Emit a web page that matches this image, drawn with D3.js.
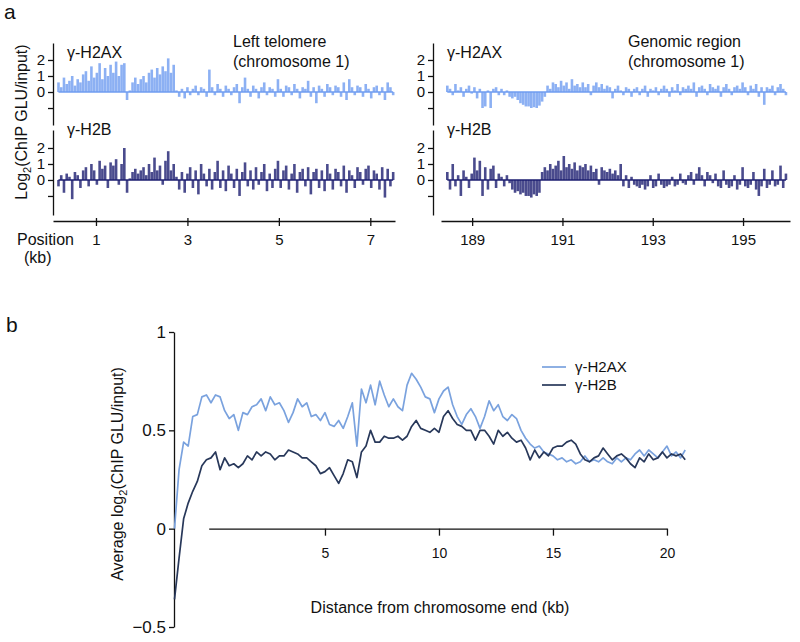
<!DOCTYPE html>
<html><head><meta charset="utf-8">
<script src="https://cdn.jsdelivr.net/npm/d3@7"></script>
<style>body{margin:0;background:#fff} svg{display:block} text{font-family:"Liberation Sans",Arial,sans-serif;fill:#111}</style>
</head><body><svg id="c" width="800" height="642"></svg>
<script>
// ---- Panel a data (log2 ChIP/input, sampled along position) ----
const leftStart = 0.18, rightStart = 188.45, trackStep = 0.06; // kb
const leftH2AX = [0.6,0.3,0.9,0.5,0.7,1.0,0.4,0.8,0.6,1.1,
  1.3,0.7,1.6,0.9,1.2,1.8,0.8,1.5,1.0,1.7,
  1.2,1.9,1.0,1.7,1.8,-0.5,0.1,0.6,0.9,0.5,
  0.8,1.0,0.6,1.2,1.4,0.9,1.5,1.1,1.6,1.3,
  2.1,1.2,1.7,0.1,-0.3,0.2,-0.4,0.3,-0.2,0.2,
  0.4,-0.2,0.3,0.2,-0.3,1.4,0.3,-0.2,0.5,0.2,
  -0.3,0.4,0.2,-0.2,0.3,0.5,-0.7,0.3,0.9,0.2,
  -0.3,0.4,0.2,-0.4,0.3,0.6,-0.2,0.3,0.2,-0.3,
  0.8,0.2,-0.3,0.4,0.3,-0.2,0.5,0.2,-0.4,0.3,
  0.2,0.7,-0.3,0.3,-0.7,0.4,0.2,-0.3,0.5,0.3,
  -0.2,0.4,0.3,-0.3,0.6,-0.5,0.8,0.3,-0.2,0.4,
  0.3,-0.3,0.5,0.2,-0.4,0.3,0.4,-0.2,0.3,-0.5,
  0.6,0.3,-0.2];
const leftH2B = [-0.4,0.3,-0.8,0.4,0.2,-1.2,0.5,0.3,-0.5,0.6,
  0.8,-0.4,1.0,0.6,-0.3,1.2,0.7,0.9,-0.5,1.1,
  0.9,1.3,-0.3,1.0,2.0,-0.8,0.1,0.5,0.7,0.4,
  0.6,0.8,0.3,1.0,0.5,1.4,0.6,0.9,-0.3,1.2,
  1.8,0.6,1.0,0.2,-0.6,0.5,-0.8,0.4,0.8,-0.5,
  0.6,-0.9,1.0,0.4,-0.4,0.7,-0.6,0.5,1.2,-0.5,
  0.6,-0.7,0.9,0.4,-0.5,0.7,-1.0,0.5,1.1,-0.4,
  0.6,-0.6,0.8,-0.3,0.5,1.0,-0.7,0.4,-0.5,0.7,
  1.2,-0.5,0.6,0.9,-0.6,0.4,1.0,-0.8,0.5,0.7,
  -0.4,0.8,-0.9,0.5,0.7,-0.5,0.6,-0.7,1.0,0.4,
  -0.6,0.7,0.5,-0.4,0.9,-0.8,0.6,0.3,-0.5,0.8,
  0.5,-0.3,0.7,0.9,-0.5,0.6,0.4,-0.6,0.8,-1.1,
  0.7,-0.4,0.5];
const rightH2AX = [0.4,0.2,-0.2,0.5,0.1,0.3,-0.3,0.2,0.4,-0.1,
  0.3,-0.4,0.2,-1.0,-0.9,0.1,-1.0,0.2,0.3,-0.2,
  0.2,-0.2,0.1,-0.3,-0.4,-0.3,-0.5,-0.7,-0.8,-0.9,
  -0.9,-1.0,-0.95,-1.0,-0.85,-0.6,-0.3,0.4,0.2,0.6,
  0.5,0.3,0.7,0.4,0.6,0.2,0.8,0.4,0.5,0.3,
  0.6,0.3,0.5,-0.2,0.4,0.6,0.3,0.5,0.2,0.4,
  0.3,-0.4,0.2,0.4,0.1,-0.2,0.3,0.2,-0.3,0.2,
  0.3,-0.2,0.2,0.4,-0.3,0.2,0.1,0.3,-0.2,0.2,
  0.4,0.2,-0.3,0.3,0.1,0.5,-0.2,0.3,0.2,0.4,
  0.2,0.6,-0.3,0.3,0.4,0.2,-0.2,0.5,0.3,0.2,
  0.4,-0.3,0.3,0.5,0.2,-0.2,0.3,0.4,0.2,0.6,
  0.3,-0.2,0.4,0.2,0.5,-0.3,0.3,-0.8,0.3,0.2,
  0.4,-0.2,0.3,0.5,0.2,-0.2];
const rightH2B = [0.5,-0.6,1.0,-0.4,0.3,-1.0,0.6,0.2,-0.5,0.4,
  1.4,0.6,1.2,-1.0,0.8,-0.6,0.7,0.9,-0.5,0.4,
  0.2,-0.4,0.3,-0.2,-0.6,-0.8,-0.7,-0.9,-0.8,-1.0,
  -1.0,-1.1,-0.9,-1.0,-0.8,0.5,0.8,0.6,1.0,0.7,
  0.9,1.2,0.6,1.5,0.8,1.0,0.7,1.1,0.6,0.9,
  0.8,1.0,0.6,0.9,0.5,0.7,-0.3,0.8,0.6,0.5,
  0.7,0.4,0.6,0.3,1.0,-0.4,0.3,-0.5,0.2,-0.3,
  -0.4,-0.5,-0.3,-0.6,-0.4,0.3,-0.5,-0.4,0.4,-0.3,
  -0.5,-0.4,-0.3,0.2,-0.4,-0.3,0.4,-0.2,-0.3,0.3,
  0.5,-0.3,0.4,0.8,0.3,-0.4,0.5,0.3,-0.2,0.4,
  -0.4,-0.5,0.6,-0.3,-0.5,-0.4,0.3,-0.6,-0.3,0.8,
  -0.4,-0.5,-0.3,0.5,-0.6,-1.0,-0.4,0.7,-0.5,-0.3,
  0.6,-0.4,-0.3,0.9,-0.5,0.4];
const leftTicks = [1, 3, 5, 7];
const rightTicks = [189, 191, 193, 195];
const trackYTicks = [2, 1, 0, -1];

// ---- Panel b data (average log2 ChIP/input vs distance from chromosome end) ----
const distStart = -1.6, distStep = 0.2; // kb
const avgH2AX = [0.00,0.30,0.44,0.42,0.57,0.58,0.67,0.68,
  0.64,0.68,0.67,0.60,0.56,0.58,0.50,0.59,0.58,0.62,
  0.63,0.66,0.60,0.67,0.63,0.64,0.60,0.54,0.59,0.66,
  0.62,0.64,0.57,0.58,0.55,0.59,0.53,0.52,0.55,0.51,
  0.57,0.64,0.42,0.71,0.64,0.73,0.63,0.75,0.68,0.62,
  0.66,0.62,0.60,0.73,0.79,0.76,0.72,0.67,0.66,0.59,
  0.66,0.70,0.72,0.63,0.57,0.53,0.58,0.61,0.57,0.51,
  0.57,0.65,0.60,0.63,0.57,0.55,0.58,0.56,0.50,0.46,
  0.43,0.41,0.42,0.39,0.38,0.37,0.35,0.36,0.34,0.35,
  0.33,0.34,0.37,0.34,0.35,0.34,0.36,0.34,0.33,0.36,
  0.34,0.36,0.35,0.38,0.40,0.37,0.40,0.38,0.36,0.39,
  0.42,0.37,0.39,0.36,0.40];
const avgH2B = [-0.36,-0.15,0.05,0.13,0.19,0.24,0.32,0.35,
  0.36,0.39,0.30,0.36,0.32,0.33,0.31,0.33,0.37,0.35,
  0.39,0.37,0.39,0.38,0.35,0.37,0.37,0.40,0.39,0.38,
  0.36,0.36,0.34,0.32,0.28,0.29,0.31,0.27,0.23,0.28,
  0.35,0.34,0.26,0.39,0.42,0.50,0.44,0.44,0.47,0.46,
  0.46,0.47,0.45,0.47,0.52,0.55,0.51,0.50,0.49,0.51,
  0.49,0.57,0.60,0.56,0.53,0.52,0.50,0.50,0.45,0.50,
  0.50,0.47,0.43,0.50,0.47,0.49,0.46,0.44,0.45,0.41,
  0.35,0.40,0.36,0.39,0.37,0.41,0.42,0.42,0.44,0.45,
  0.43,0.38,0.35,0.34,0.36,0.37,0.41,0.38,0.35,0.37,
  0.38,0.36,0.33,0.31,0.36,0.34,0.38,0.35,0.36,0.39,
  0.36,0.38,0.37,0.38,0.35];
const avgXTicks = [5, 10, 15, 20];
const avgYTicks = [1, 0.5, 0, -0.5];

// ---- drawing ----
const svg = d3.select('#c');
const FONT = '"Liberation Sans", Arial, sans-serif';
const FONT_B = 'Lato, "Liberation Sans", sans-serif';
const colA = '#6f9cf0', colB = '#1d1e70';
const colA2 = '#7aa2de', colB2 = '#28385a';

function styleAxis(g, size, fam) {
  g.attr('font-size', size).attr('font-family', fam);
  g.selectAll('path,line').attr('stroke', '#111').attr('stroke-width', 1.3);
  g.selectAll('text').attr('fill', '#111');
}

const yTop = d3.scaleLinear().domain([-2.06, 3.06]).range([125, 43]);
const yBot = d3.scaleLinear().domain([-2.19, 3.125]).range([215, 130]);
const xL = d3.scaleLinear().domain([0.06, 7.54]).range([53, 395]);
const xR = d3.scaleLinear().domain([188.31, 196.04]).range([441, 790]);

function drawTrack(data, start, xs, ys, color) {
  const pts = data.map((v, i) => ({pos: start + i * trackStep, v}));
  const g = svg.append('g');
  g.selectAll('line.s').data(pts).join('line').attr('class', 's')
    .attr('x1', d => xs(d.pos)).attr('x2', d => xs(d.pos))
    .attr('y1', ys(0)).attr('y2', d => ys(d.v))
    .attr('stroke', color).attr('stroke-width', 2.6).attr('stroke-opacity', 0.8);
  g.append('line')
    .attr('x1', xs(pts[0].pos)).attr('x2', xs(pts[pts.length - 1].pos))
    .attr('y1', ys(0)).attr('y2', ys(0))
    .attr('stroke', color).attr('stroke-width', 1.4);
}
drawTrack(leftH2AX, leftStart, xL, yTop, colA);
drawTrack(leftH2B, leftStart, xL, yBot, colB);
drawTrack(rightH2AX, rightStart, xR, yTop, colA);
drawTrack(rightH2B, rightStart, xR, yBot, colB);

// track y axes
[53, 433].forEach(ax => {
  [yTop, yBot].forEach(ys => {
    const g = svg.append('g').attr('transform', `translate(${ax},0)`)
      .call(d3.axisLeft(ys).tickValues(trackYTicks).tickSize(5).tickSizeOuter(0).tickPadding(3)
        .tickFormat(d => d < 0 ? '' : d));
    styleAxis(g, 15, FONT);
  });
});
// track x axes
function trackX(xs, ticks) {
  const g = svg.append('g').attr('transform', 'translate(0,221)')
    .call(d3.axisBottom(xs).tickValues(ticks).tickSize(5).tickSizeOuter(0).tickPadding(8));
  styleAxis(g, 15, FONT);
  g.selectAll('.tick line').attr('y1', -3);
}
trackX(xL, leftTicks);
trackX(xR, rightTicks);

function txt(x, y, s, size, opts = {}) {
  const t = svg.append('text').attr('x', x).attr('y', y).attr('font-size', size)
    .attr('font-family', opts.fam || FONT).attr('text-anchor', opts.anchor || 'start');
  t.text(s);
  return t;
}
txt(4, 19, 'a', 21);
txt(6, 332, 'b', 21);
txt(67, 58, 'γ-H2AX', 16);
txt(67, 135, 'γ-H2B', 16);
txt(447, 58, 'γ-H2AX', 16);
txt(447, 135, 'γ-H2B', 16);
txt(233, 47, 'Left telomere', 16);
txt(233, 67, '(chromosome 1)', 16);
txt(628, 47, 'Genomic region', 16);
txt(628, 67, '(chromosome 1)', 16);
txt(17, 245, 'Position', 16);
txt(24, 263, '(kb)', 16);

// rotated y title panel a
{
  const t = svg.append('text').attr('transform', 'translate(27,122) rotate(-90)')
    .attr('text-anchor', 'middle').attr('font-size', 16).attr('font-family', FONT);
  t.append('tspan').text('Log');
  t.append('tspan').text('2').attr('font-size', 11).attr('dy', 4);
  t.append('tspan').text('(ChIP GLU/input)').attr('dy', -4);
}

// ---- panel b ----
const xB = d3.scaleLinear().domain([-1.6, 20.8]).range([174.5, 685.2]);
const yB = d3.scaleLinear().domain([-0.5, 1]).range([627, 332]);
const xBAxis = d3.scaleLinear().domain([-0.1, 20]).range([xB(-0.1), xB(20)]);

const gy = svg.append('g').attr('transform', 'translate(174,0)')
  .call(d3.axisLeft(yB).tickValues(avgYTicks).tickSize(5).tickSizeOuter(0).tickPadding(3)
    .tickFormat(d => d < 0 ? '−' + Math.abs(d) : String(d)));
styleAxis(gy, 17, FONT);

const gx = svg.append('g').attr('transform', `translate(0,${yB(0)})`)
  .call(d3.axisBottom(xBAxis).tickValues(avgXTicks).tickSize(7).tickSizeOuter(0).tickPadding(12));
styleAxis(gx, 14, FONT_B);

const line = d3.line().x(d => xB(d.pos)).y(d => yB(d.v));
const toPts = arr => arr.map((v, i) => ({pos: distStart + i * distStep, v}));
svg.append('path').datum(toPts(avgH2AX)).attr('d', line)
  .attr('fill', 'none').attr('stroke', colA2).attr('stroke-width', 1.7).attr('stroke-linejoin', 'round');
svg.append('path').datum(toPts(avgH2B)).attr('d', line)
  .attr('fill', 'none').attr('stroke', colB2).attr('stroke-width', 1.7).attr('stroke-linejoin', 'round');

// legend
[[colA2, 'γ-H2AX', 367], [colB2, 'γ-H2B', 385]].forEach(([c, s, y]) => {
  svg.append('line').attr('x1', 542).attr('x2', 566).attr('y1', y).attr('y2', y)
    .attr('stroke', c).attr('stroke-width', 1.7);
  txt(575, y + 5, s, 15);
});

txt(440, 613, 'Distance from chromosome end (kb)', 16, {anchor: 'middle', fam: FONT_B});
{
  const t = svg.append('text').attr('transform', 'translate(123,474) rotate(-90)')
    .attr('text-anchor', 'middle').attr('font-size', 16).attr('font-family', FONT_B);
  t.append('tspan').text('Average log');
  t.append('tspan').text('2').attr('font-size', 11).attr('dy', 4);
  t.append('tspan').text('(ChIP GLU/input)').attr('dy', -4);
}
</script></body></html>
